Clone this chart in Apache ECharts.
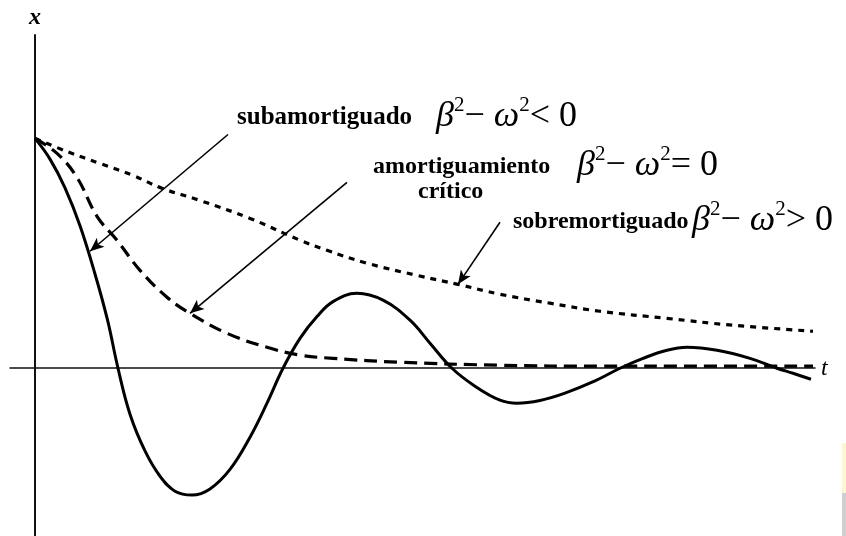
<!DOCTYPE html>
<html>
<head>
<meta charset="utf-8">
<script src="https://cdn.jsdelivr.net/npm/echarts@6/dist/echarts.min.js"></script>
<style>
  html, body { margin: 0; padding: 0; background: #fff; }
  #chart { width: 846px; height: 536px; }
</style>
</head>
<body>
<div id="chart"></div>
<script>
// Damped oscillator x(t), all three cases released from x = 1 at t = 0.

// Underdamped (subamortiguado)
var underT = [0, 0.3, 0.6, 0.9, 1.2, 1.45, 1.66, 1.9, 2.2, 2.5, 2.8, 3.14, 3.5, 3.9, 4.3, 4.64, 4.96,
              5.3, 5.64, 5.96, 6.44, 6.96, 7.5, 7.9, 8.34, 8.8, 9.3, 9.64, 10.1, 10.6, 11.2, 11.7, 12.16, 12.64,
              13.04, 13.64, 14.3, 14.84, 15.16, 15.52];
var underX = [1.0, 0.91, 0.785, 0.62, 0.41, 0.21, 0.0, -0.2, -0.36, -0.47, -0.535, -0.552, -0.525, -0.44,
              -0.3, -0.152, 0.0, 0.13, 0.225, 0.29, 0.326, 0.296, 0.209, 0.109, 0.0, -0.078, -0.139,
              -0.152, -0.140, -0.108, -0.055, 0.0, 0.043, 0.078, 0.091, 0.078, 0.043, 0.0, -0.022, -0.048];

// Critically damped (amortiguamiento crítico)
var criticalT = [0, 0.44, 0.84, 1.24, 1.64, 2.1, 2.64, 3.1, 3.84, 4.64, 5.3, 5.96, 7.3, 9.3, 11.3, 13.3, 15.56];
var criticalX = [1.0, 0.935, 0.83, 0.661, 0.557, 0.426, 0.309, 0.239, 0.152, 0.091, 0.057, 0.043, 0.026, 0.013,
                 0.009, 0.009, 0.009];

// Overdamped (sobremortiguado)
var overT = [0, 0.64, 1.3, 1.96, 2.54, 3.3, 4.3, 5.3, 5.84, 6.64, 7.64, 8.46, 9.3, 10.3, 11.3, 12.64, 13.96, 15.56];
var overX = [1.0, 0.943, 0.891, 0.839, 0.783, 0.73, 0.652, 0.557, 0.513, 0.457, 0.404, 0.365, 0.322, 0.283,
             0.248, 0.217, 0.187, 0.161];

// Pointer arrows: [tail t, tail x, head t, head x]
var arrowUnder = [3.86, 1.017, 1.1, 0.509];
var arrowCritical = [6.24, 0.809, 3.1, 0.239];
var arrowOver = [9.3, 0.635, 8.46, 0.365];

// Axis names
var yName = 'x';
var xName = 't';

function pairs(ts, xs) {
  return ts.map(function (t, i) { return [t, xs[i]]; });
}
function arrow(a) {
  return [{ coord: [a[0], a[1]] }, { coord: [a[2], a[3]] }];
}

var serif = '"Liberation Serif", "Times New Roman", serif';
var mathRich = {
  g: { fontFamily: serif, fontStyle: 'italic', fontSize: 36, fill: '#000', verticalAlign: 'bottom', lineHeight: 40 },
  n: { fontFamily: serif, fontSize: 36, fill: '#000', verticalAlign: 'bottom', lineHeight: 40 },
  s: { fontFamily: serif, fontSize: 21, fill: '#000', verticalAlign: 'top', lineHeight: 23 }
};
function labelText(text, x, y, size) {
  return {
    type: 'text', silent: true,
    style: { text: text, x: x, y: y, fill: '#000', fontFamily: serif, fontWeight: 'bold', fontSize: size,
             textVerticalAlign: 'middle' }
  };
}
function mathText(op, x, y) {
  return {
    type: 'text', silent: true,
    style: { text: '{g|β}{s|2}{n|−}{g| ω}{s|2}{n|' + op + ' 0}', x: x, y: y, rich: mathRich,
             textVerticalAlign: 'middle' }
  };
}

var chart = echarts.init(document.getElementById('chart'), null, { renderer: 'canvas' });
chart.setOption({
  animation: false,
  backgroundColor: '#fff',
  grid: { left: 10, right: 31, top: 35, bottom: 0 },
  xAxis: {
    type: 'value', min: -0.5, max: 15.6,
    name: xName, nameLocation: 'end', nameGap: 6,
    nameTextStyle: { fontFamily: serif, fontStyle: 'italic', fontSize: 24, color: '#000', verticalAlign: 'middle' },
    axisLine: { onZero: true, lineStyle: { color: '#111', width: 1.5 } },
    axisTick: { show: false }, axisLabel: { show: false }, splitLine: { show: false }
  },
  yAxis: {
    type: 'value', min: -0.73, max: 1.45,
    name: yName, nameLocation: 'end', nameGap: 5,
    nameTextStyle: { fontFamily: serif, fontStyle: 'italic', fontWeight: 'bold', fontSize: 24, color: '#000' },
    axisLine: { onZero: true, lineStyle: { color: '#111', width: 2 } },
    axisTick: { show: false }, axisLabel: { show: false }, splitLine: { show: false }
  },
  series: [
    {
      name: 'sobremortiguado', type: 'line', smooth: 0.4, showSymbol: false,
      data: pairs(overT, overX),
      lineStyle: { color: '#000', width: 3.2, type: [6, 6] }
    },
    {
      name: 'amortiguamiento crítico', type: 'line', smooth: 0.4, showSymbol: false,
      data: pairs(criticalT, criticalX),
      lineStyle: { color: '#000', width: 3.2, type: [13, 7] }
    },
    {
      name: 'subamortiguado', type: 'line', smooth: 0.4, showSymbol: false,
      data: pairs(underT, underX),
      lineStyle: { color: '#000', width: 3 },
      markLine: {
        silent: true, symbol: ['none', 'arrow'], symbolSize: [9, 14],
        label: { show: false },
        lineStyle: { color: '#000', width: 1.6, type: 'solid' },
        data: [arrow(arrowUnder), arrow(arrowCritical), arrow(arrowOver)]
      }
    }
  ],
  graphic: [
    labelText('subamortiguado', 237, 118, 25),
    mathText('<', 436, 115),
    labelText('amortiguamiento', 373, 167, 24),
    labelText('crítico', 418, 192, 24),
    mathText('=', 577, 164),
    labelText('sobremortiguado', 513, 222, 24),
    mathText('>', 692, 219),
    { type: 'rect', silent: true, shape: { x: 842, y: 443, width: 4, height: 50 }, style: { fill: '#fdf7cf' } },
    { type: 'rect', silent: true, shape: { x: 842, y: 493, width: 4, height: 43 }, style: { fill: '#cfcfcf' } }
  ]
});
</script>
</body>
</html>
